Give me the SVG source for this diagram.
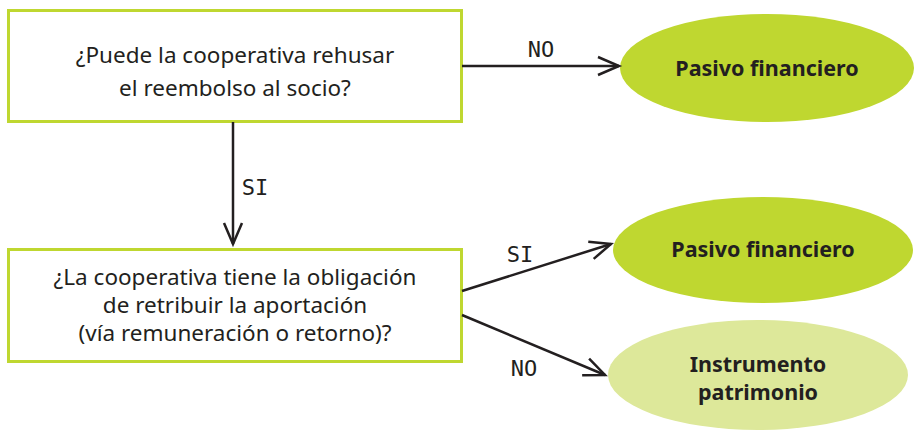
<svg xmlns="http://www.w3.org/2000/svg" width="916" height="432" viewBox="0 0 916 432">
<style>
.box{fill:#fff;stroke:#bfd730;stroke-width:3}
.q{font-family:"Noto Sans","Liberation Sans",sans-serif;font-size:22.5px;fill:#231f20;text-anchor:middle}
.r{font-family:"Noto Sans","Liberation Sans",sans-serif;font-size:21.5px;font-weight:bold;fill:#231f20;text-anchor:middle}
.lbl{font-family:"DejaVu Sans Mono","Liberation Mono",monospace;font-size:22px;fill:#231f20;text-anchor:middle}
.c{stroke:#231f20;stroke-width:2.5;fill:none;marker-end:url(#a)}
</style>
<defs>
<marker id="a" viewBox="-24 -12 26 24" refX="0" refY="0" markerWidth="26" markerHeight="24" markerUnits="userSpaceOnUse" orient="auto" overflow="visible">
<path d="M-21,-9 L0,0 L-21,9" fill="none" stroke="#231f20" stroke-width="2.5"/>
</marker>
</defs>
<rect width="916" height="432" fill="#fff"/>
<g id="q1">
<rect class="box" x="8.5" y="10.5" width="453" height="111"/>
<text class="q" x="235" y="63">¿Puede la cooperativa rehusar</text>
<text class="q" x="235" y="96">el reembolso al socio?</text>
</g>
<g id="q2">
<rect class="box" x="8.5" y="249.5" width="453" height="112"/>
<text class="q" x="235" y="285">¿La cooperativa tiene la obligación</text>
<text class="q" x="235" y="313">de retribuir la aportación</text>
<text class="q" x="235" y="341">(vía remuneración o retorno)?</text>
</g>
<g id="r1">
<ellipse cx="767" cy="68" rx="147" ry="54" fill="#bfd730"/>
<text class="r" x="767" y="76">Pasivo financiero</text>
</g>
<g id="r2">
<ellipse cx="763" cy="250" rx="150" ry="53" fill="#bfd730"/>
<text class="r" x="763" y="257">Pasivo financiero</text>
</g>
<g id="r3">
<ellipse cx="758" cy="375" rx="150" ry="55" fill="#dde89a"/>
<text class="r" x="758" y="372">Instrumento</text>
<text class="r" x="758" y="400">patrimonio</text>
</g>
<g id="connectors">
<path class="c" d="M462,66 L619,66"/>
<path class="c" d="M233,122 L233,244"/>
<path class="c" d="M462,291 L611,244"/>
<path class="c" d="M462,315 L605,375"/>
<text class="lbl" x="541" y="57">NO</text>
<text class="lbl" x="255" y="195">SI</text>
<text class="lbl" x="520" y="262">SI</text>
<text class="lbl" x="524" y="376">NO</text>
</g>
</svg>
